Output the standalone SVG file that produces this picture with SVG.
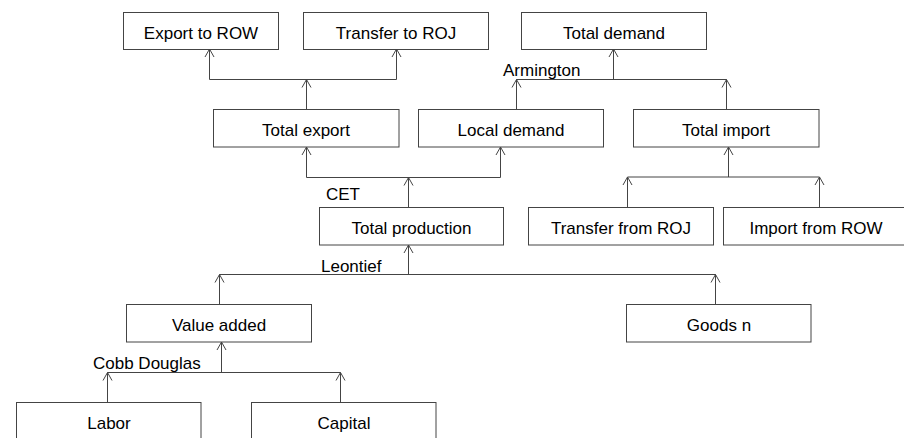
<svg xmlns="http://www.w3.org/2000/svg" width="904" height="438" viewBox="0 0 904 438">
<style>
rect.n{fill:#fff;stroke:#444;stroke-width:1}
text{font-family:"Liberation Sans",Arial,sans-serif;font-size:17px;fill:#000}
text.c{text-anchor:middle}
.e{fill:none;stroke:#444;stroke-width:1}
</style>
<defs>
<marker id="ah" viewBox="-6 -1 12 10" refX="0" refY="0" markerWidth="12" markerHeight="10" markerUnits="userSpaceOnUse" orient="auto-start-reverse">
<path d="M-4.5,8 L0,0 L4.5,8" fill="none" stroke="#444" stroke-width="1"/>
</marker>
</defs>
<rect width="904" height="438" fill="#fff"/>
<g id="connectors">
<!-- Total export -> Export to ROW / Transfer to ROJ -->
<path class="e" d="M306.5,109 V79.5"/>
<path class="e" d="M209.5,79.5 H396.5"/>
<path class="e" d="M209.5,79.5 V49"/>
<path class="e" d="M396.5,79.5 V49"/>
<path d="M302,87.5 L306.5,79.5 L311,87.5 M205,57 L209.5,49 L214,57 M392,57 L396.5,49 L401,57" class="e"/>
<!-- Local demand / Total import -> Total demand -->
<path class="e" d="M516.5,109 V79.5"/>
<path class="e" d="M726.5,109 V79.5"/>
<path class="e" d="M516.5,79.5 H726.5"/>
<path class="e" d="M613.5,79.5 V49"/>
<path d="M512,87.5 L516.5,79.5 L521,87.5 M722,87.5 L726.5,79.5 L731,87.5 M609,57 L613.5,49 L618,57" class="e"/>
<!-- Total production -> Total export / Local demand -->
<path class="e" d="M408.5,207.5 V177.5"/>
<path class="e" d="M306.5,177.5 H500.5"/>
<path class="e" d="M306.5,177.5 V147"/>
<path class="e" d="M500.5,177.5 V147"/>
<path d="M404,185.5 L408.5,177.5 L413,185.5 M302,155 L306.5,147 L311,155 M496,155 L500.5,147 L505,155" class="e"/>
<!-- Transfer from ROJ / Import from ROW -> Total import -->
<path class="e" d="M627.5,207.5 V177"/>
<path class="e" d="M819.5,207.5 V177"/>
<path class="e" d="M627.5,177 H819.5"/>
<path class="e" d="M728.5,177 V147"/>
<path d="M623,185 L627.5,177 L632,185 M815,185 L819.5,177 L824,185 M724,155 L728.5,147 L733,155" class="e"/>
<!-- Value added / Goods n -> Total production -->
<path class="e" d="M219.5,304.5 V274.5"/>
<path class="e" d="M715.5,304.5 V274.5"/>
<path class="e" d="M219.5,274.5 H715.5"/>
<path class="e" d="M408.5,274.5 V245"/>
<path d="M215,282.5 L219.5,274.5 L224,282.5 M711,282.5 L715.5,274.5 L720,282.5 M404,253 L408.5,245 L413,253" class="e"/>
<!-- Labor / Capital -> Value added -->
<path class="e" d="M107.5,402.5 V372.5"/>
<path class="e" d="M340.5,402.5 V372.5"/>
<path class="e" d="M107.5,372.5 H340.5"/>
<path class="e" d="M221.5,372.5 V342"/>
<path d="M103,380.5 L107.5,372.5 L112,380.5 M336,380.5 L340.5,372.5 L345,380.5 M217,350 L221.5,342 L226,350" class="e"/>
<text x="503" y="76">Armington</text>
<text x="326" y="200">CET</text>
<text x="321" y="271.5">Leontief</text>
<text x="93" y="369">Cobb Douglas</text>
</g>
<g id="export_row"><rect class="n" x="123.5" y="12.5" width="155" height="37"/><text class="c" x="201" y="38.5">Export to ROW</text></g>
<g id="transfer_roj"><rect class="n" x="303.5" y="12.5" width="185" height="37"/><text class="c" x="396" y="38.5">Transfer to ROJ</text></g>
<g id="total_demand"><rect class="n" x="521.5" y="12.5" width="185" height="37"/><text class="c" x="614" y="38.5">Total demand</text></g>
<g id="total_export"><rect class="n" x="213.5" y="109.5" width="185.5" height="37.5"/><text class="c" x="306" y="135.5">Total export</text></g>
<g id="local_demand"><rect class="n" x="418.5" y="109.5" width="185" height="37.5"/><text class="c" x="511" y="135.5">Local demand</text></g>
<g id="total_import"><rect class="n" x="633.5" y="109.5" width="185.5" height="37.5"/><text class="c" x="726" y="135.5">Total import</text></g>
<g id="total_production"><rect class="n" x="319.5" y="207.5" width="184" height="37.5"/><text class="c" x="411.5" y="234">Total production</text></g>
<g id="transfer_from_roj"><rect class="n" x="528.5" y="207.5" width="185" height="37.5"/><text class="c" x="621" y="234">Transfer from ROJ</text></g>
<g id="import_from_row"><rect class="n" x="723.5" y="207.5" width="185" height="37.5"/><text class="c" x="816" y="234">Import from ROW</text></g>
<g id="value_added"><rect class="n" x="126.5" y="304.5" width="185" height="37.5"/><text class="c" x="219" y="331">Value added</text></g>
<g id="goods_n"><rect class="n" x="626.5" y="304.5" width="184.5" height="37.5"/><text class="c" x="719" y="331">Goods n</text></g>
<g id="labor"><rect class="n" x="16.5" y="402.5" width="184.5" height="38"/><text class="c" x="109" y="429">Labor</text></g>
<g id="capital"><rect class="n" x="251.5" y="402.5" width="184.5" height="38"/><text class="c" x="344" y="429">Capital</text></g>
</svg>
